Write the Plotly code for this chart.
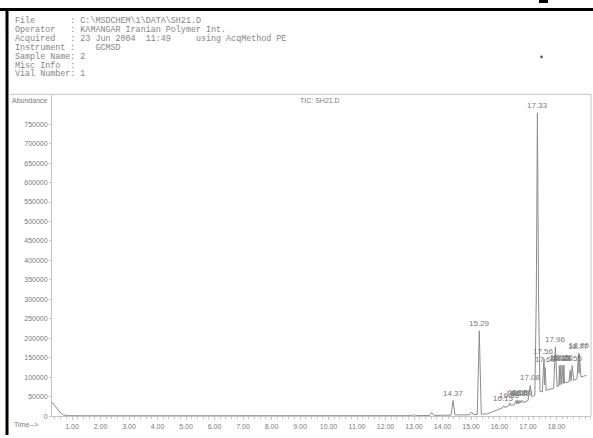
import plotly.graph_objects as go

W, H = 593, 438

# Header block of the ChemStation report
header_lines = [
    "File       : C:\\MSDCHEM\\1\\DATA\\SH21.D",
    "Operator   : KAMANGAR Iranian Polymer Int.",
    "Acquired   : 23 Jun 2004  11:49     using AcqMethod PE",
    "Instrument :    GCMSD",
    "Sample Name: 2",
    "Misc Info  :",
    "Vial Number: 1",
]

# Total ion chromatogram: retention time (min) and abundance
tic_time = [
    0.30, 0.40, 0.50, 0.60, 0.70, 0.85, 1.50, 3.00, 6.00, 9.00, 12.00,
    12.95, 13.00, 13.05, 13.55, 13.62, 13.70, 14.30, 14.37, 14.44,
    14.95, 15.02, 15.08, 15.22, 15.29, 15.36, 15.55, 15.65,
    16.10, 16.15, 16.19, 16.32, 16.36, 16.40, 16.52, 16.58, 16.61,
    16.65, 16.68, 16.72, 16.76, 16.80, 16.84, 17.00, 17.08, 17.13,
    17.24, 17.29, 17.33, 17.37, 17.42, 17.50, 17.56, 17.58, 17.60,
    17.64, 17.90, 17.96, 18.02, 18.08, 18.10, 18.12, 18.15, 18.18,
    18.21, 18.24, 18.26, 18.28, 18.33, 18.44, 18.48, 18.51, 18.55,
    18.60, 18.72, 18.77, 18.79, 18.80, 18.86, 19.05,
]
tic_abund = [
    36000, 26000, 16000, 8000, 3000, 1200, 900, 800, 800, 900, 1000,
    1200, 4000, 1300, 1500, 9000, 2000, 2500, 40000, 3000,
    3500, 11000, 4000, 4500, 219000, 5500, 5500, 8000,
    21000, 27000, 22000, 26000, 34000, 27000, 30000, 40000, 31000,
    41000, 32000, 40000, 34000, 41000, 35000, 40000, 79000, 50000,
    54000, 300000, 778000, 300000, 64000, 62000, 148000, 80000, 125000,
    66000, 72000, 178000, 76000, 77000, 130000, 80000, 131000, 82000,
    130000, 84000, 131000, 85000, 86000, 88000, 118000, 90000, 130000,
    92000, 96000, 160000, 110000, 161000, 100000, 105000,
]

# Integrated peaks: retention time and apex abundance
peak_time = [14.37, 15.29, 16.15, 16.36, 16.58, 16.65, 16.72, 16.80,
             17.08, 17.33, 17.56, 17.60, 17.96, 18.10, 18.15, 18.21,
             18.26, 18.55, 18.77, 18.80]
peak_abund = [40000, 219000, 27000, 34000, 40000, 41000, 40000, 41000,
              79000, 778000, 148000, 125000, 178000, 130000, 131000,
              130000, 131000, 130000, 160000, 161000]

y_ticks = list(range(0, 750001, 50000))
x_ticks = list(range(1, 19))

GREY_TEXT = "#7a7a7a"
HEADER_TEXT = "#858585"
GREY_LINE = "#8c8c8c"
AXIS_LINE = "#c4c4c4"


def px(x):
    return x / W


def py(y):
    return 1 - y / H


fig = go.Figure()
fig.add_trace(go.Scatter(
    x=tic_time, y=tic_abund, mode="lines",
    line=dict(color=GREY_LINE, width=1), hoverinfo="skip",
    showlegend=False,
))

annotations = []
for t, a in zip(peak_time, peak_abund):
    annotations.append(dict(
        x=t, y=a, xref="x", yref="y", text=f"{t:.2f}", showarrow=False,
        yanchor="bottom", yshift=1,
        font=dict(family="Liberation Sans, Arial", size=8, color=GREY_TEXT),
    ))

for i, line in enumerate(header_lines):
    annotations.append(dict(
        x=px(13), y=py(21 + 9 * i), xref="paper", yref="paper",
        text=line.replace(" ", "&nbsp;"), showarrow=False,
        xanchor="left", yanchor="middle",
        font=dict(family="Liberation Mono, Courier New", size=8.4,
                  color=HEADER_TEXT),
    ))

annotations += [
    dict(x=px(10), y=py(101), xref="paper", yref="paper", text="Abundance",
         showarrow=False, xanchor="left", yanchor="middle",
         font=dict(family="Liberation Sans, Arial", size=7, color=GREY_TEXT)),
    dict(x=px(320), y=py(101), xref="paper", yref="paper", text="TIC: SH21.D",
         showarrow=False, xanchor="center", yanchor="middle",
         font=dict(family="Liberation Sans, Arial", size=7, color=GREY_TEXT)),
    dict(x=px(12), y=py(427), xref="paper", yref="paper", text="Time-->",
         showarrow=False, xanchor="left", yanchor="middle",
         font=dict(family="Liberation Sans, Arial", size=7, color=GREY_TEXT)),
]

shapes = [
    # page border of the scanned report
    dict(type="line", xref="paper", yref="paper", x0=0, x1=1,
         y0=py(9.5), y1=py(9.5), line=dict(color="black", width=3)),
    dict(type="line", xref="paper", yref="paper", x0=px(7), x1=px(7),
         y0=py(8), y1=0, line=dict(color="black", width=3)),
    dict(type="rect", xref="paper", yref="paper", x0=px(539), x1=px(548),
         y0=py(0), y1=py(3), fillcolor="black", line=dict(width=0)),
    dict(type="circle", xref="paper", yref="paper", x0=px(540), x1=px(543),
         y0=py(56), y1=py(59), fillcolor="#666", line=dict(width=0)),
    # chart frame
    dict(type="line", xref="paper", yref="paper", x0=px(10), x1=px(591),
         y0=py(95), y1=py(95), line=dict(color=AXIS_LINE, width=1)),
    dict(type="line", xref="paper", yref="paper", x0=px(591), x1=px(591),
         y0=py(95), y1=py(419), line=dict(color=AXIS_LINE, width=1)),
]

fig.update_layout(
    width=W, height=H, margin=dict(l=0, r=0, t=0, b=0),
    paper_bgcolor="white", plot_bgcolor="white",
    annotations=annotations, shapes=shapes,
    xaxis=dict(
        domain=[px(52), px(591)], range=[0.298, 19.21],
        tickvals=x_ticks, ticktext=[f"{v:.2f}" for v in x_ticks],
        ticks="outside", ticklen=3, tickcolor=AXIS_LINE, tickwidth=1,
        minor=dict(dtick=0.2, tick0=0, ticks="outside", ticklen=2,
                   tickcolor=AXIS_LINE),
        showline=True, linecolor=AXIS_LINE, linewidth=1,
        showgrid=False, zeroline=False,
        tickfont=dict(family="Liberation Sans, Arial", size=7,
                      color=GREY_TEXT),
    ),
    yaxis=dict(
        domain=[py(419), py(96)], range=[0, 824000],
        tickvals=y_ticks, ticktext=[str(v) for v in y_ticks],
        ticks="outside", ticklen=2, tickcolor=AXIS_LINE,
        showline=True, linecolor=AXIS_LINE, linewidth=1,
        showgrid=False, zeroline=False,
        tickfont=dict(family="Liberation Sans, Arial", size=7,
                      color=GREY_TEXT),
    ),
)

fig.write_html("out.html")
